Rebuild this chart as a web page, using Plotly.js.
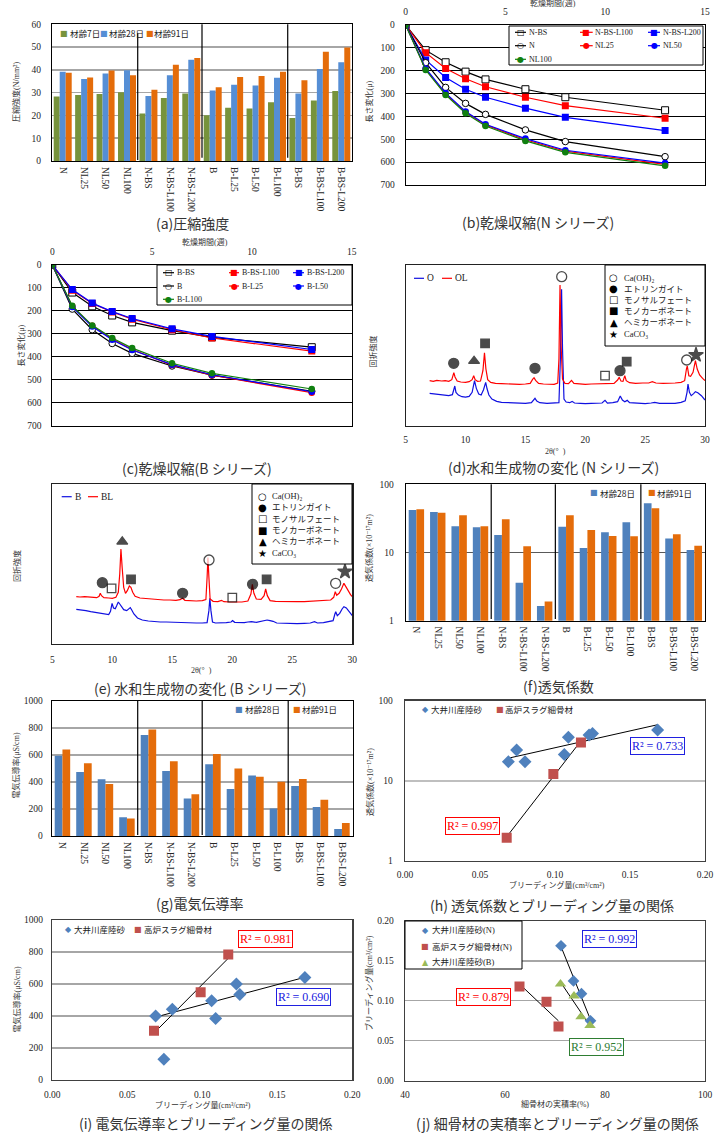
<!DOCTYPE html>
<html><head><meta charset="utf-8">
<script src="https://cdn.plot.ly/plotly-3.0.1.min.js"></script>
<style>html,body{margin:0;padding:0;background:#fff;}</style>
</head><body><div id="chart" style="width:723px;height:1133px;"></div>
<script>
// ---------------- DATA ----------------
const barCats = ['N','NL25','NL50','NL100','N-BS','N-BS-L100','N-BS-L200','B','B-L25','B-L50','B-L100','B-BS','B-BS-L100','B-BS-L200'];
// (a) compressive strength N/mm2
const strength7  = [28.3,29.0,29.4,30.2,20.9,27.7,29.6,20.1,23.4,23.0,25.8,18.9,26.5,30.7];
const strength28 = [39.2,36.0,38.4,39.8,28.5,37.6,44.4,30.9,33.5,33.1,36.5,29.6,40.4,43.3];
const strength91 = [38.7,36.6,39.7,37.6,31.3,42.2,45.2,32.4,36.9,37.3,39.2,35.4,47.9,49.8];
// (b)(c) drying shrinkage
const weeks = [0,1,2,3,4,6,8,13];
const shrinkNBS     = [0,110,163,204,238,281,316,373];
const shrinkNBSL100 = [0,121,190,235,270,316,353,408];
const shrinkNBSL200 = [0,153,230,281,316,364,404,462];
const shrinkN       = [0,165,273,343,391,459,510,576];
const shrinkNL25    = [0,193,302,381,437,502,552,610];
const shrinkNL50    = [0,190,298,378,434,497,548,604];
const shrinkNL100   = [0,197,306,386,442,507,557,616];
const shrinkBBS     = [0,120,180,220,250,286,315,358];
const shrinkBBSL100 = [0,110,168,205,236,282,318,375];
const shrinkBBSL200 = [0,107,166,203,233,278,311,368];
const shrinkB       = [0,192,282,342,385,440,480,550];
const shrinkBL25    = [0,180,265,322,368,436,480,556];
const shrinkBL50    = [0,183,268,326,370,434,478,552];
const shrinkBL100   = [0,178,263,318,362,428,472,540];
// (d) XRD N series (2theta, relative intensity)
const ol2t = [7.0,7.3,7.6,8.0,8.3,8.6,8.85,8.95,9.02,9.12,9.3,9.6,10.0,10.3,10.55,10.68,10.8,11.0,11.25,11.45,11.58,11.7,11.85,12.1,12.5,13.0,13.5,14.0,14.5,15.0,15.4,15.6,15.72,15.85,16.1,16.5,17.0,17.4,17.7,17.8,17.89,17.98,18.1,18.3,18.6,18.85,19.05,19.5,20.0,20.5,21.0,21.5,22.0,22.4,22.7,22.83,22.98,23.15,23.3,23.42,23.7,24.2,24.8,25.3,25.6,25.9,26.5,27.0,27.5,28.0,28.3,28.45,28.52,28.65,28.8,29.0,29.2,29.35,29.55,29.8,30.0];
const olI  = [135,133,136,134,135,133,138,152,159,146,134,131,130,132,138,150,138,133,134,165,219,170,138,130,127,126,125,126,124,125,127,139,144,136,127,125,125,124,128,200,422,240,140,127,126,136,127,125,124,125,125,126,127,127,137,145,134,133,150,135,129,127,128,128,132,128,127,127,128,130,135,170,179,150,148,160,195,170,152,142,135];
const o2t = [7.0,7.3,7.6,8.0,8.3,8.6,8.9,9.0,9.1,9.2,9.4,9.7,10.0,10.3,10.55,10.75,10.9,11.1,11.3,11.5,11.68,11.8,11.95,12.2,12.6,13.0,13.5,14.0,14.5,15.0,15.5,15.7,15.8,15.95,16.2,16.8,17.3,17.8,17.92,18.02,18.1,18.22,18.4,18.7,18.9,19.1,19.6,20.0,20.5,21.0,21.4,21.65,21.85,22.3,22.7,22.92,23.1,23.3,23.5,23.7,24.2,25.0,25.5,25.8,26.2,27.0,27.5,28.0,28.35,28.5,28.58,28.7,28.85,29.05,29.2,29.4,29.7,30.0];
const oI  = [97,96,95,94,93,90,93,105,119,100,92,87,86,88,100,135,112,95,92,108,130,110,92,80,73,70,69,68,68,67,69,76,82,74,69,67,67,69,200,409,230,80,71,69,73,68,67,66,67,67,68,76,68,69,72,89,77,72,76,69,67,66,68,70,67,66,67,70,75,100,125,100,90,96,102,99,90,77];
// (e) XRD B series
const bl2t = [7.0,7.3,7.7,8.0,8.4,8.7,8.9,9.0,9.1,9.3,9.7,10.0,10.3,10.5,10.62,10.72,10.82,10.95,11.1,11.25,11.42,11.55,11.7,11.9,12.3,12.8,13.3,13.8,14.3,14.8,15.3,15.65,15.85,16.05,16.5,17.0,17.5,17.8,17.9,17.97,18.05,18.15,18.4,18.8,19.1,19.3,19.8,20.3,20.8,21.3,21.55,21.67,21.8,22.0,22.4,22.65,22.78,22.92,23.15,23.6,24.2,24.8,25.4,26.0,26.6,27.2,27.8,28.2,28.45,28.58,28.7,28.9,29.1,29.3,29.5,29.7,29.85,30.0];
const blI  = [142,141,142,141,140,139,143,152,145,139,138,137,140,155,210,285,230,170,152,160,174,170,155,143,138,136,135,133,132,132,131,133,137,131,130,129,130,133,200,259,200,135,128,127,131,127,126,125,126,129,150,179,152,135,134,145,165,145,130,128,127,126,127,127,128,129,130,132,140,157,146,152,165,182,170,155,148,142];
const b2t = [7.0,7.4,7.8,8.2,8.6,9.0,9.4,9.7,9.85,9.98,10.1,10.25,10.38,10.5,10.62,10.78,10.95,11.2,11.38,11.5,11.62,11.8,12.1,12.5,13.0,13.5,14.0,14.5,15.0,15.5,16.0,16.5,17.0,17.5,17.9,18.05,18.13,18.22,18.35,18.6,19.0,19.5,19.9,20.02,20.2,20.6,21.0,21.3,21.6,22.0,22.4,22.7,22.9,23.15,23.4,23.7,24.2,24.8,25.4,26.0,26.5,26.85,27.1,27.6,28.0,28.4,28.55,28.62,28.75,28.95,29.15,29.3,29.5,29.7,29.85,30.0];
const bI  = [104,103,100,97,94,91,89,88,98,122,108,106,116,126,120,112,103,100,104,109,102,90,78,72,69,67,66,66,65,65,64,64,63,63,64,100,137,100,66,63,63,64,66,70,65,64,64,66,67,65,68,70,72,70,68,63,62,61,61,62,63,67,63,64,66,70,90,97,85,92,105,112,108,99,92,85];
// XRD phase markers
const dPeakX = [9.01,10.71,11.63,15.8,18.03,21.65,22.9,23.46,28.47,29.25];
const dPeakY = [187,194,247,172,447,150,165,192,197,212];
const dPeakKind = ['Et','Hc','Mc','Et','CH','Ms','Et','Mc','CH','Cc'];
const ePeakX = [9.17,9.94,10.83,11.56,15.86,18.06,20.0,21.69,22.86,28.61,29.39];
const ePeakY = [184,167,307,194,152,252,139,179,194,182,217];
const ePeakKind = ['Et','Ms','Hc','Mc','Et','CH','Ms','Et','Mc','CH','Cc'];
const phaseKinds = ['CH','Et','Ms','Mc','Hc','Cc'];
const phaseLabels = ['Ca(OH)₂','エトリンガイト','モノサルフェート','モノカーボネート','ヘミカーボネート','CaCO₃'];
// (f) air permeability x10^-17 m2
const perm28 = [42,39.3,24.2,23.4,18.1,3.6,1.64,23.9,11.6,19.8,27.7,52.6,16,10.9];
const perm91 = [43,38.4,35.1,24.2,30.7,12.3,1.92,35.1,21.4,17.5,17.3,44.5,18.5,12.6];
// (g) electrical conductivity uS/cm
const cond28 = [594,473,419,138,746,480,278,530,347,448,204,369,214,52];
const cond91 = [640,537,384,130,788,552,308,606,498,438,401,421,268,96];
// (h)(i) vs bleeding
const bleedSand = [0.0689,0.0744,0.0800,0.1062,0.1089,0.1227,0.1250,0.1684];
const permSand  = [17.3,24.2,17.3,21.3,34.8,37.2,39.0,43.0];
const bleedSlag = [0.0678,0.0989,0.1173];
const permSlag  = [1.94,12.1,30.1];
const condSand  = [400,129,442,496,385,600,535,640];
const condSandInFit = [true,false,true,true,true,true,true,true];
const condSlag  = [308,548,785];
// (j) packing ratio vs bleeding
const packSandN = [71.2,73.7,75.3,77.1];
const bleedSandN = [0.169,0.125,0.109,0.075];
const packSlagN = [62.9,68.3,70.7];
const bleedSlagN = [0.118,0.099,0.068];
const packSandB = [71.1,73.8,75.2,77.0];
const bleedSandB = [0.121,0.106,0.080,0.069];
const r2h = ['R² = 0.733','R² = 0.997'];
const r2i = ['R² = 0.981','R² = 0.690'];
const r2j = ['R² = 0.992','R² = 0.879','R² = 0.952'];

// ---------------- HELPERS ----------------
const W=723, H=1133;
const JP='"Noto Sans CJK JP", sans-serif';
const SERIF='"Liberation Serif", "DejaVu Serif", serif';
const MIX='"Liberation Serif", "Noto Sans CJK JP", "DejaVu Serif", serif';
const SYM='"DejaVu Sans", sans-serif';
const fx=x=>x/W, fy=y=>1-y/H;
const D=(x0,x1,y0,y1)=>({x:[fx(x0),fx(x1)],y:[fy(y1),fy(y0)]});
const dom = {
  a:D(52,352,24.3,161), b:D(405.7,705,25,185), c:D(52.3,351.7,265,425.7), d:D(405.7,705,265,425.7),
  e:D(52.3,352.3,484.3,644), f:D(405.7,705,484.3,620.7), g:D(51.7,352.7,700.7,836),
  h:D(405,705,700.7,860.7), i:D(52.3,352.3,920,1080), j:D(405,705,921,1080.7)
};
const C = {green:'#77933C', blue7:'#558ED5', orange:'#E46C0A', blue:'#4F81BD', red:'#C0504D', tri:'#9BBB59'};

function linFit(xs,ys){const n=xs.length;const mx=xs.reduce((a,b)=>a+b,0)/n,my=ys.reduce((a,b)=>a+b,0)/n;let sxy=0,sxx=0;for(let k=0;k<n;k++){sxy+=(xs[k]-mx)*(ys[k]-my);sxx+=(xs[k]-mx)**2;}const b=sxy/sxx;return {a:my-b*mx,b};}
function fitLine(xs,ys,kind){const ext=[Math.min(...xs),Math.max(...xs)];if(kind==='exp'){const f=linFit(xs,ys.map(Math.log));return {x:ext,y:ext.map(x=>Math.exp(f.a+f.b*x))};}const f=linFit(xs,ys);return {x:ext,y:ext.map(x=>f.a+f.b*x)};}

const traces=[];
// (a)
[[strength7,C.green,-0.42],[strength28,C.blue7,-0.14],[strength91,C.orange,0.14]].forEach(s=>traces.push({type:'bar',x:barCats,y:s[0],xaxis:'x',yaxis:'y',marker:{color:s[1]},offset:s[2],width:0.28,showlegend:false}));
// (b)(c)
function shrink(list,xa,ya){list.forEach(s=>traces.push({type:'scatter',mode:'lines+markers',x:weeks,y:s[0],xaxis:xa,yaxis:ya,line:{color:s[1],width:1.2},marker:{symbol:s[2],size:s[2]==='square'?7:6.5,color:s[3]?'#fff':s[1],line:{color:s[1],width:s[3]?1:0}},showlegend:false}));}
shrink([[shrinkNBS,'#000','square',true],[shrinkNBSL100,'#FF0000','square',false],[shrinkNBSL200,'#0000FF','square',false],[shrinkN,'#000','circle',true],[shrinkNL25,'#FF0000','circle',false],[shrinkNL50,'#0000FF','circle',false],[shrinkNL100,'#108010','circle',false]],'x2','y2');
shrink([[shrinkBBS,'#000','square',true],[shrinkBBSL100,'#FF0000','square',false],[shrinkBBSL200,'#0000FF','square',false],[shrinkB,'#000','circle',true],[shrinkBL25,'#FF0000','circle',false],[shrinkBL50,'#0000FF','circle',false],[shrinkBL100,'#108010','circle',false]],'x3','y3');
// (d)(e) XRD
const phaseStyle={CH:{s:'circle',f:'#fff',z:10},Et:{s:'circle',f:'#000',z:10},Ms:{s:'square',f:'#fff',z:8.5},Mc:{s:'square',f:'#000',z:8.5},Hc:{s:'triangle-up',f:'#000',z:9.5},Cc:{s:'star',f:'#000',z:11}};
function xrd(x,y,c,xa,ya){traces.push({type:'scatter',mode:'lines',x,y,xaxis:xa,yaxis:ya,line:{color:c,width:1.2},showlegend:false});}
function peaks(x,y,k,xa,ya){traces.push({type:'scatter',mode:'markers',x,y,xaxis:xa,yaxis:ya,marker:{symbol:k.map(q=>phaseStyle[q].s),size:k.map(q=>phaseStyle[q].z),color:k.map(q=>phaseStyle[q].f),line:{color:'#000',width:1.3}},showlegend:false});}
xrd(o2t,oI,'#1010E0','x4','y4'); xrd(ol2t,olI,'#FF0000','x4','y4'); peaks(dPeakX,dPeakY,dPeakKind,'x4','y4');
xrd(b2t,bI,'#1010E0','x5','y5'); xrd(bl2t,blI,'#FF0000','x5','y5'); peaks(ePeakX,ePeakY,ePeakKind,'x5','y5');
// (f)(g)
[[perm28,C.blue,-0.36],[perm91,C.orange,0]].forEach(s=>traces.push({type:'bar',x:barCats,y:s[0],xaxis:'x6',yaxis:'y6',marker:{color:s[1]},offset:s[2],width:0.36,showlegend:false}));
[[cond28,C.blue,-0.36],[cond91,C.orange,0]].forEach(s=>traces.push({type:'bar',x:barCats,y:s[0],xaxis:'x7',yaxis:'y7',marker:{color:s[1]},offset:s[2],width:0.36,showlegend:false}));
// scatter helpers
function pts(x,y,xa,ya,sym,col,size){traces.push({type:'scatter',mode:'markers',x,y,xaxis:xa,yaxis:ya,marker:{symbol:sym,color:col,size},showlegend:false});}
function fl(x,y,xa,ya,kind){const f=fitLine(x,y,kind);traces.push({type:'scatter',mode:'lines',x:f.x,y:f.y,xaxis:xa,yaxis:ya,line:{color:'#000',width:1},showlegend:false});}
// (h)
fl(bleedSand,permSand,'x8','y8','exp'); fl(bleedSlag,permSlag,'x8','y8','exp');
pts(bleedSand,permSand,'x8','y8','diamond',C.blue,10); pts(bleedSlag,permSlag,'x8','y8','square',C.red,10);
// (i)
fl(bleedSand.filter((v,k)=>condSandInFit[k]),condSand.filter((v,k)=>condSandInFit[k]),'x9','y9','lin'); fl(bleedSlag,condSlag,'x9','y9','lin');
pts(bleedSand,condSand,'x9','y9','diamond',C.blue,10); pts(bleedSlag,condSlag,'x9','y9','square',C.red,10);
// (j)
fl(packSandN,bleedSandN,'x10','y10','lin'); fl(packSlagN,bleedSlagN,'x10','y10','lin'); fl(packSandB,bleedSandB,'x10','y10','lin');
pts(packSandN,bleedSandN,'x10','y10','diamond',C.blue,9); pts(packSlagN,bleedSlagN,'x10','y10','square',C.red,10); pts(packSandB,bleedSandB,'x10','y10','triangle-up',C.tri,10);

// ---------------- LAYOUT ----------------
const base={showline:true,mirror:true,linecolor:'#000',linewidth:1,ticks:'',showgrid:false,zeroline:false,fixedrange:true,tickfont:{family:SERIF,size:9.5,color:'#262626'}};
const A=(d,anchor,extra)=>Object.assign({},base,{domain:d,anchor},extra);
const cat={type:'category',range:[-0.5,13.5],tickangle:90,ticklabelstandoff:3};
const layout={width:W,height:H,margin:{l:0,r:0,t:0,b:0},paper_bgcolor:'#fff',plot_bgcolor:'#fff',showlegend:false,font:{family:SERIF,size:9.5,color:'#222'},
  xaxis:A(dom.a.x,'y',cat),
  yaxis:A(dom.a.y,'x',{range:[0,60],dtick:10,showgrid:true,gridcolor:'#A6A6A6',gridwidth:1.5,ticklabelstandoff:8}),
  xaxis2:A(dom.b.x,'y2',{range:[0,15],dtick:5,side:'top',ticklabelstandoff:5}),
  yaxis2:A(dom.b.y,'x2',{range:[700,0],dtick:100,showgrid:true,gridcolor:'#000',gridwidth:1,ticklabelstandoff:8}),
  xaxis3:A(dom.c.x,'y3',{range:[0,15],dtick:5,side:'top',ticklabelstandoff:5}),
  yaxis3:A(dom.c.y,'x3',{range:[700,0],dtick:100,showgrid:true,gridcolor:'#000',gridwidth:1,ticklabelstandoff:8}),
  xaxis4:A(dom.d.x,'y4',{range:[5,30],dtick:5,ticklabelstandoff:5,linecolor:'#222',linewidth:1.2}),
  yaxis4:A(dom.d.y,'x4',{range:[0,482],showticklabels:false,linecolor:'#222',linewidth:1.2}),
  xaxis5:A(dom.e.x,'y5',{range:[5,30],dtick:5,ticklabelstandoff:6,linecolor:'#222',linewidth:1.2}),
  yaxis5:A(dom.e.y,'x5',{range:[0,479],showticklabels:false,linecolor:'#222',linewidth:1.2}),
  xaxis6:A(dom.f.x,'y6',cat),
  yaxis6:A(dom.f.y,'x6',{type:'log',range:[0,2],dtick:1,showgrid:true,gridcolor:'#595959',gridwidth:1,ticklabelstandoff:9}),
  xaxis7:A(dom.g.x,'y7',cat),
  yaxis7:A(dom.g.y,'x7',{range:[0,1000],dtick:200,showgrid:true,gridcolor:'#A6A6A6',gridwidth:1.5,ticklabelstandoff:6}),
  xaxis8:A(dom.h.x,'y8',{range:[0,0.2],dtick:0.05,tickformat:'.2f',ticklabelstandoff:5,linecolor:'#404040',linewidth:1.3}),
  yaxis8:A(dom.h.y,'x8',{type:'log',range:[0,2],dtick:1,showgrid:true,gridcolor:'#BFBFBF',gridwidth:2,ticklabelstandoff:9,linecolor:'#404040',linewidth:1.3}),
  xaxis9:A(dom.i.x,'y9',{range:[0,0.2],dtick:0.05,tickformat:'.2f',ticklabelstandoff:5,linecolor:'#404040',linewidth:1.3}),
  yaxis9:A(dom.i.y,'x9',{range:[0,1000],dtick:200,showgrid:true,gridcolor:'#A6A6A6',gridwidth:1.2,ticklabelstandoff:6,linecolor:'#404040',linewidth:1.3}),
  xaxis10:A(dom.j.x,'y10',{range:[40,100],dtick:20,ticklabelstandoff:5,linecolor:'#404040',linewidth:1.3}),
  yaxis10:A(dom.j.y,'x10',{range:[0,0.2],dtick:0.05,tickformat:'.2f',showgrid:true,gridcolor:'#A6A6A6',gridwidth:1.2,ticklabelstandoff:8,linecolor:'#404040',linewidth:1.3})
};

// shapes
const shapes=[];
function sep(xa,ya,x,y0,y1){shapes.push({type:'line',xref:xa,yref:ya+' domain',x0:x,x1:x,y0,y1,line:{color:'#000',width:1.2}});}
sep('x','y',3.5,0.007,0.934); sep('x','y',6.5,0.024,1); sep('x','y',10.5,0.024,1);
[3.5,6.5,10.5].forEach(v=>sep('x6','y6',v,0.012,1));
[3.5,6.5,10.5].forEach(v=>sep('x7','y7',v,0.007,1));
function box(x0,x1,y0,y1){shapes.push({type:'rect',xref:'paper',yref:'paper',x0:fx(x0),x1:fx(x1),y0:fy(y1),y1:fy(y0),fillcolor:'#fff',line:{color:'#000',width:1},layer:'above'});}
function seg(x0,x1,y,c){shapes.push({type:'line',xref:'paper',yref:'paper',x0:fx(x0),x1:fx(x1),y0:fy(y),y1:fy(y),line:{color:c,width:1.2},layer:'above'});}
box(509,703,26,65); box(157,352,265,305); box(605,705,265,346); box(252,352,484,564); box(405,522,921,969);

// annotations
const anns=[];
function T(text,x,y,o){anns.push(Object.assign({text,x:fx(x),y:fy(y),xref:'paper',yref:'paper',showarrow:false,xanchor:'center',yanchor:'middle',borderpad:0,font:{family:JP,size:8.5,color:'#222'}},o||{}));}
// captions
[['(a)圧縮強度',192,223],['(b)乾燥収縮(N シリーズ)',538,221.7],['(c)乾燥収縮(B シリーズ)',197,468],['(d)水和生成物の変化 (N シリーズ)',553,467],
 ['(e) 水和生成物の変化 (B シリーズ)',200,688],['(f)透気係数',558,686],['(g)電気伝導率',200,903],['(h) 透気係数とブリーディング量の関係',552,905],
 ['(i) 電気伝導率とブリーディング量の関係',205,1123],['(j) 細骨材の実積率とブリーディング量の関係',557,1123]].forEach(c=>T(c[0],c[1],c[2],{font:{family:JP,size:14,color:'#333'}}));
// axis titles
const tf={family:MIX,size:8,color:'#333'};
[['圧縮強度(N/mm²)',16,92],['長さ変化(μ)',368.5,102],['長さ変化(μ)',20.5,346],['回折強度',372.5,351],['回折強度',17,566],
 ['透気係数(×10⁻¹⁷m²)',369,548],['電気伝導率(μS/cm)',15.5,766],['透気係数(×10⁻¹⁷m²)',370,782],
 ['電気伝導率(μS/cm)',16.5,1000],['ブリーディング量(cm³/cm²)',369,983]].forEach(c=>T(c[0],c[1],c[2],{textangle:-90,font:tf}));
[['乾燥期間(週)',553,3],['乾燥期間(週)',205,242],['2θ(°  )',555,451.3],['2θ(°  )',201.7,670],['ブリーディング量(cm³/cm²)',557,885],
 ['ブリーディング量(cm³/cm²)',203,1105],['細骨材の実積率(%)',555,1104]].forEach(c=>T(c[0],c[1],c[2],{font:tf}));
// legend helpers
function G(glyph,x,y,color,size){T(glyph,x,y,{font:{family:SYM,size:size||8,color}});}
function L(text,x,y,fam,size){T(text,x,y,{xanchor:'left',font:{family:fam||JP,size:size||8.5,color:'#222'}});}
// (a)
[[C.green,64.3,68.5,'材齢7日'],[C.blue7,104.3,108,'材齢28日'],[C.orange,149.5,153,'材齢91日']].forEach(e=>{G('■',e[1],33.3,e[0]);L(e[3],e[2],33.3);});
// (f)(g)
[[C.blue,594.3,598.5,'材齢28日'],[C.orange,651.7,656,'材齢91日']].forEach(e=>{G('■',e[1],492.7,e[0]);L(e[3],e[2],492.7);});
[[C.blue,239.3,243.5,'材齢28日'],[C.orange,296.7,300.8,'材齢91日']].forEach(e=>{G('■',e[1],709,e[0]);L(e[3],e[2],709);});
// (b)(c) line+marker legends
function lm(x0,x1,y,c,glyph,label){seg(x0,x1,y,c);G(glyph,(x0+x1)/2,y,c,8);L(label,x1+1.5,y,SERIF,8);}
lm(515,526,32.3,'#000','□','N-BS'); lm(580,592.7,32.3,'#FF0000','■','N-BS-L100'); lm(648,660,32.3,'#0000FF','■','N-BS-L200');
lm(515,526,45.7,'#000','○','N'); lm(580,592.7,45.7,'#FF0000','●','NL25'); lm(648,660,45.7,'#0000FF','●','NL50');
lm(515,526,59.3,'#108010','●','NL100');
lm(163,174,272.7,'#000','□','B-BS'); lm(229,239,272.7,'#FF0000','■','B-BS-L100'); lm(293,304,272.7,'#0000FF','■','B-BS-L200');
lm(163,174,286,'#000','○','B'); lm(229,239,286,'#FF0000','●','B-L25'); lm(293,304,286,'#0000FF','●','B-L50');
lm(163,174,299.3,'#108010','●','B-L100');
// (d)(e) line legends
seg(414,424,278.3,'#1010E0'); L('O',426,278.3,SERIF,9.5); seg(442,452,278.3,'#FF0000'); L('OL',454,278.3,SERIF,9.5);
seg(61.7,71.7,496.7,'#1010E0'); L('B',73.5,496.7,SERIF,9.5); seg(88,98,496.7,'#FF0000'); L('BL',99.5,496.7,SERIF,9.5);
// (d)(e) phase legends
const phaseGlyph={CH:'○',Et:'●',Ms:'□',Mc:'■',Hc:'▲',Cc:'★'};
const dRows=[277.7,289,300,311,322.3,334], eRows=[496,507.3,518.7,530,541.3,553.3];
phaseKinds.forEach((k,n)=>{G(phaseGlyph[k],613.5,dRows[n],'#000',10);L(phaseLabels[n],622.5,dRows[n],MIX,8.5);
  G(phaseGlyph[k],262.5,eRows[n],'#000',10);L(phaseLabels[n],271.3,eRows[n],MIX,8.5);});
// (h)(i)(j) legends
G('◆',425,709,C.blue,8); L('大井川産陸砂',429.5,709); G('■',500,709,C.red,8); L('高炉スラグ細骨材',504.3,709);
G('◆',68.3,929,C.blue,8); L('大井川産陸砂',72.5,929); G('■',138.3,929,C.red,8); L('高炉スラグ細骨材',142.7,929);
G('◆',425,930,C.blue,8); L('大井川産陸砂(N)',430.5,930,MIX); G('■',425,946.7,C.red,8); L('高炉スラグ細骨材(N)',430.5,946.7,MIX); G('▲',425,962.3,C.tri,8); L('大井川産陸砂(B)',430.5,962.3,MIX);
// R2 labels
function R(text,x,y,c){T(text,x,y,{font:{family:SERIF,size:12,color:c},bordercolor:c,borderwidth:1,borderpad:1,bgcolor:'#fff'});}
R(r2h[0],657.3,746,'#2020E0'); R(r2h[1],472.3,826,'#FF0000');
R(r2i[0],265.7,939.3,'#FF0000'); R(r2i[1],303.3,996.7,'#2020E0');
R(r2j[0],609,939,'#2020E0'); R(r2j[1],484,996.7,'#FF0000'); R(r2j[2],596,1047.3,'#2E7D32');

layout.shapes=shapes; layout.annotations=anns;
Plotly.newPlot('chart',traces,layout,{displayModeBar:false,staticPlot:true});
</script></body></html>
